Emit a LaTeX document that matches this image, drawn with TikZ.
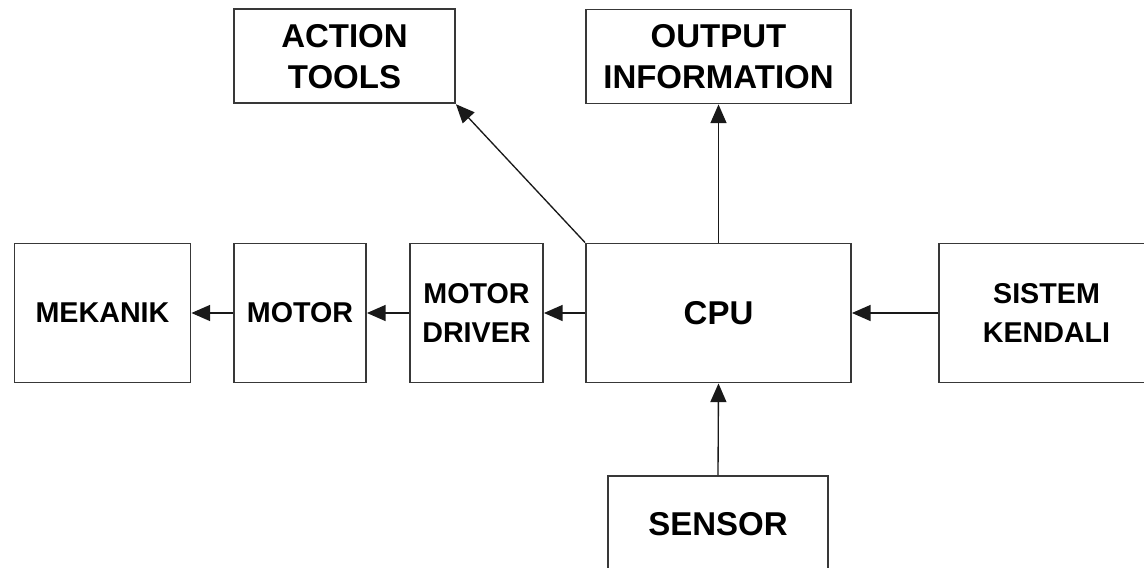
\documentclass[tikz,border=0pt]{standalone}
\usepackage{fontspec}
\setmainfont{Liberation Sans}
\usetikzlibrary{arrows.meta}

\tikzset{
  blok/.style={draw=black!78, line width=1.4pt, rectangle, align=center, inner sep=0.75pt, font=\bfseries},
  besar/.style={font=\bfseries\fontsize{24.75}{30.75}\selectfont},
  kecil/.style={font=\bfseries\fontsize{21.5}{29}\selectfont},
  panah/.style={line width=1pt, draw=black!90, -{Triangle[length=14pt,width=12pt]}}
}

\begin{document}
\begin{tikzpicture}[x=0.75pt,y=0.75pt,yscale=-1,xscale=1]
			\useasboundingbox (0,0) rectangle (1144,567);

			% Text Node
			\node [blok,besar,minimum width=165.75pt,minimum height=70.5pt] (act) at (344.5,56.3) {ACTION\\TOOLS};
			% Text Node
			\node [blok,besar,minimum width=198.75pt,minimum height=70.5pt] (out) at (718.5,56.5) {OUTPUT\\INFORMATION};
			% Text Node
			\node [blok,kecil,minimum width=132pt,minimum height=104.25pt] (mek) at (102.5,313) {MEKANIK};
			% Text Node
			\node [blok,kecil,minimum width=99pt,minimum height=104.25pt] (mot) at (300,313) {MOTOR};
			% Text Node
			\node [blok,kecil,minimum width=99.75pt,minimum height=104.25pt] (drv) at (476.5,313) {MOTOR\\DRIVER};
			% Text Node
			\node [blok,besar,minimum width=198.75pt,minimum height=104.25pt] (cpu) at (718.5,313) {CPU};
			% Text Node
			\node [blok,kecil,minimum width=161pt,minimum height=104.25pt] (sis) at (1046.5,313) {SISTEM\\KENDALI};
			% Text Node
			\node [blok,besar,minimum width=165pt,minimum height=72.75pt] (sen) at (718,524.5) {SENSOR};

			% Connection
			\draw [panah] (cpu.north west) -- (act.south east);
			% Connection
			\draw [panah] (cpu.north) -- (out.south);
			% Connection
			\draw [panah] (cpu.west) -- (drv.east);
			% Connection
			\draw [panah] (drv.west) -- (mot.east);
			% Connection
			\draw [panah] (mot.west) -- (mek.east);
			% Connection
			\draw [panah] (sis.west) -- (cpu.east);
			% Connection
			\draw [panah] (sen.north) -- (cpu.south);
\end{tikzpicture}
\end{document}
